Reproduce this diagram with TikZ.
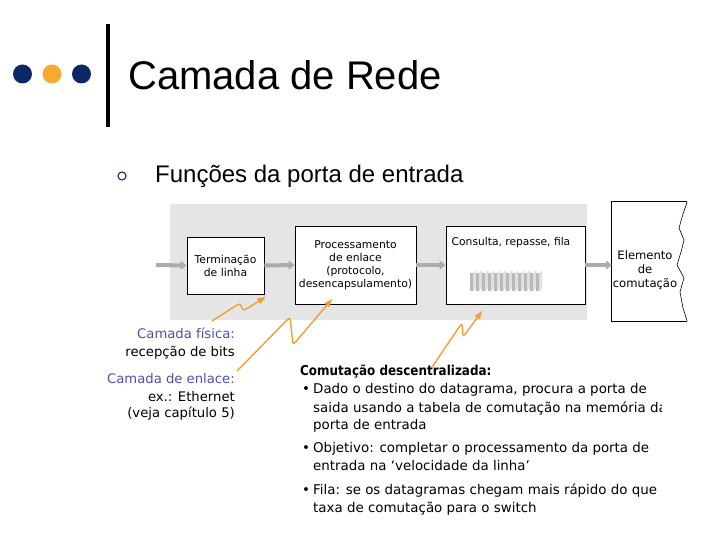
\documentclass[tikz,border=0pt]{standalone}
\usepackage{fontspec}
\setmainfont{Liberation Sans}
\newfontfamily\slidefont{DejaVu Sans}
\newfontfamily\headfont{DejaVu Sans}[FakeStretch=0.88]
\usetikzlibrary{arrows.meta}
\definecolor{navy}{RGB}{12,40,104}
\definecolor{dotorange}{RGB}{246,170,50}
\definecolor{zigorange}{RGB}{240,160,50}
\definecolor{portgray}{RGB}{229,229,229}
\definecolor{layerblue}{RGB}{78,78,168}

\begin{document}
\begin{tikzpicture}[x=1pt, y=-1pt,
    box/.style={draw, line width=0.8pt, fill=white, inner sep=0pt, align=center,
        font=\slidefont\fontsize{10.8}{13}\selectfont},
    pipe/.style={line width=4pt, draw=gray!65, -{Triangle[length=6pt,width=9pt]}},
    zig/.style={draw=zigorange, line width=1.4pt, rounded corners=3pt,
        -{Latex[length=9pt,width=7pt]}},
    lbl/.style={anchor=base east, inner sep=0pt, font=\slidefont\fontsize{13.2}{16}\selectfont},
    txt/.style={anchor=base west, inner sep=0pt, font=\slidefont\fontsize{13.4}{16}\selectfont}]
    \useasboundingbox (0,0) rectangle (720,540);
    % Title
    \foreach \x/\c in {22.5/navy, 52/dotorange, 81.5/navy}
        \fill[\c] (\x,74) circle (9.5pt);
    \draw[line width=4pt] (108,24) -- (108,127);
    \node[anchor=base west, inner sep=0pt, font=\fontsize{40}{48}\selectfont] (title) at (128,90) {Camada de Rede};
    \draw[navy, line width=1.1pt] (122,176) circle (4pt);
    \node[anchor=base west, inner sep=0pt, font=\fontsize{24}{28}\selectfont] (sub) at (155,183) {Funções da porta de entrada};
    % Input port
    \fill[portgray] (170,204) rectangle (587,320);
    \node[box, minimum width=77pt, minimum height=57pt] (term) at (225.5,265.5) {Terminação\\de linha};
    \node[box, minimum width=121pt, minimum height=78pt] (proc) at (355.5,265) {Processamento\\de enlace\\(protocolo,\\desencapsulamento)};
    \node[box, minimum width=139pt, minimum height=78pt] (fila) at (515.5,265) {};
    \node[inner sep=0pt, font=\slidefont\fontsize{10.7}{13}\selectfont] (filatxt) at (511,243) {Consulta, repasse, fila};
    \foreach \i in {0,...,11} {
        \fill[gray!55] (470+6*\i,273) rectangle (473+6*\i,291);
        \fill[gray!25] (473+6*\i,273) -- (476+6*\i,270) -- (476+6*\i,288) -- (473+6*\i,291) -- cycle;
    }
    % Switch fabric
    \node[inner sep=0pt, minimum width=75pt, minimum height=119pt] (elem) at (649.5,261.5) {};
    \draw[line width=0.8pt] (elem.north east) -- (elem.north west) -- (elem.south west) -- (elem.south east);
    \draw[line width=0.6pt] (elem.north east) -- (683,214) -- (679,228) -- (684,240) -- (681,252)
        -- (677,265) -- (684,278) -- (680,292) -- (683,308) -- (elem.south east);
    \node[inner sep=0pt, align=center, font=\slidefont\fontsize{11.6}{14}\selectfont] (elemtxt) at (645,270) {Elemento\\de\\comutação};
    \coordinate (src) at (156,265);
    \draw[pipe] (src) -- (term.west);
    \draw[pipe] (term.east) -- (proc.west);
    \draw[pipe] (proc.east) -- (fila.west);
    \draw[pipe] (fila.east) -- (fila.east -| elem.west);
    % Layers
    \node[lbl, text=layerblue] (fis) at (235,338) {Camada física:};
    \node[lbl] (bits) at (235,356) {recepção de bits};
    \node[lbl, text=layerblue] (enl) at (235,383) {Camada de enlace:};
    \node[lbl] (eth) at (235,401) {ex.: Ethernet};
    \node[lbl] (cap) at (235,417) {(veja capítulo 5)};
    \coordinate (z1) at (212,321);
    \coordinate (z2) at (237,371);
    \coordinate (z3) at (432,367);
    \coordinate (t1) at ([xshift=2pt,yshift=-2pt]term.south east);
    \coordinate (t2) at ([xshift=38pt,yshift=6pt]proc.south west);
    \coordinate (t3) at ([xshift=37pt,yshift=-6pt]fila.south west);
    \draw[zig] (z1) -- (240,303) -- (243,311) -- (t1);
    \draw[zig] (z2) -- (290,317) -- (293,345) -- (t2);
    \draw[zig] (z3) -- (462,323) -- (463,337) -- (t3);
    % Decentralized switching
    \begin{scope}
        \clip (295,350) rectangle (661,530);
        \node[anchor=base west, inner sep=0pt, font=\headfont\bfseries\fontsize{13.6}{16}\selectfont] (desc) at (300,375) {Comutação descentralizada:};
        \foreach \y/\t [count=\i] in {393/{Dado o destino do datagrama, procura a porta de},
            412/{saida usando a tabela de comutação na memória da},
            429/{porta de entrada},
            452/{Objetivo: completar o processamento da porta de},
            470/{entrada na ‘velocidade da linha’},
            494/{Fila: se os datagramas chegam mais rápido do que a},
            512/{taxa de comutação para o switch}}
            \node[txt] (ln\i) at (313,\y) {\t};
        \foreach \y [count=\i] in {393,452,494}
            \node[txt] (dot\i) at (302,\y) {•};
    \end{scope}
\end{tikzpicture}
\end{document}
